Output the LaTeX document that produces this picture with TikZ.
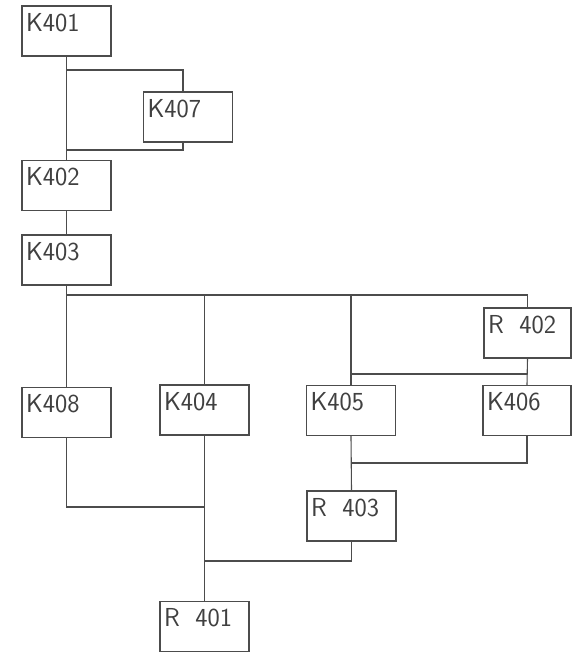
\documentclass[tikz,border=0pt]{standalone}
\tikzset{
  bloc/.style={draw, minimum width=89pt, minimum height=50pt, inner sep=0pt},
  nom/.style={anchor=north west, inner xsep=4pt, inner ysep=7pt, text=black!75,
    font=\sffamily\fontsize{26}{26}\selectfont},
}
\begin{document}
\begin{tikzpicture}[x=1pt,y=-1pt,draw=black!70,line width=1.1pt]
  \useasboundingbox (0,0) rectangle (572,656);
  % blocs
  \node [bloc, label={[nom]north west:K401}] (K401) at (66.5,31) {};
  \node [bloc, label={[nom]north west:K407}] (K407) at (188,117) {};
  \node [bloc, label={[nom]north west:K402}] (K402) at (66.5,185.5) {};
  \node [bloc, label={[nom]north west:K403}] (K403) at (66.5,260) {};
  \node [bloc, minimum width=87pt, label={[nom]north west:R\hspace{0.6em}402}] (R402) at (527.5,333) {};
  \node [bloc, label={[nom]north west:K408}] (K408) at (66.5,412.5) {};
  \node [bloc, label={[nom]north west:K404}] (K404) at (204.5,410) {};
  \node [bloc, label={[nom]north west:K405}] (K405) at (351,410.5) {};
  \node [bloc, minimum width=88pt, label={[nom]north west:K406}] (K406) at (527,410.5) {};
  \node [bloc, label={[nom]north west:R\hspace{0.6em}403}] (R403) at (351.5,516) {};
  \node [bloc, label={[nom]north west:R\hspace{0.6em}401}] (R401) at (204.5,626.5) {};
  % liaisons
  \coordinate (a) at (K401.south |- 0,70);
  \coordinate (b) at (K401.south |- 0,150);
  \coordinate (bus) at (K403.south |- 0,295);
  \draw (K401.south) -- (K402.north);
  \draw (a) -| ([xshift=-5pt]K407.north);
  \draw ([xshift=-5pt]K407.south) |- (b);
  \draw (K402.south) -- (K403.north);
  \draw (K403.south) -- (K408.north);
  \draw (bus) -| (R402.north);
  \draw (K404.north |- bus) -- (K404.north);
  \draw (K405.north |- bus) -- (K405.north);
  \draw (R402.south) -- (K406.north);
  \draw (K405.north |- 0,374) -- (K406.north |- 0,374);
  \draw (K405.south) -- (R403.north);
  \draw (K406.south) |- (K405.south |- 0,463);
  \draw (K404.south) -- (R401.north);
  \draw (K408.south) |- (K404.south |- 0,507);
  \draw (R403.south) |- (R401.north |- 0,561);
\end{tikzpicture}
\end{document}
